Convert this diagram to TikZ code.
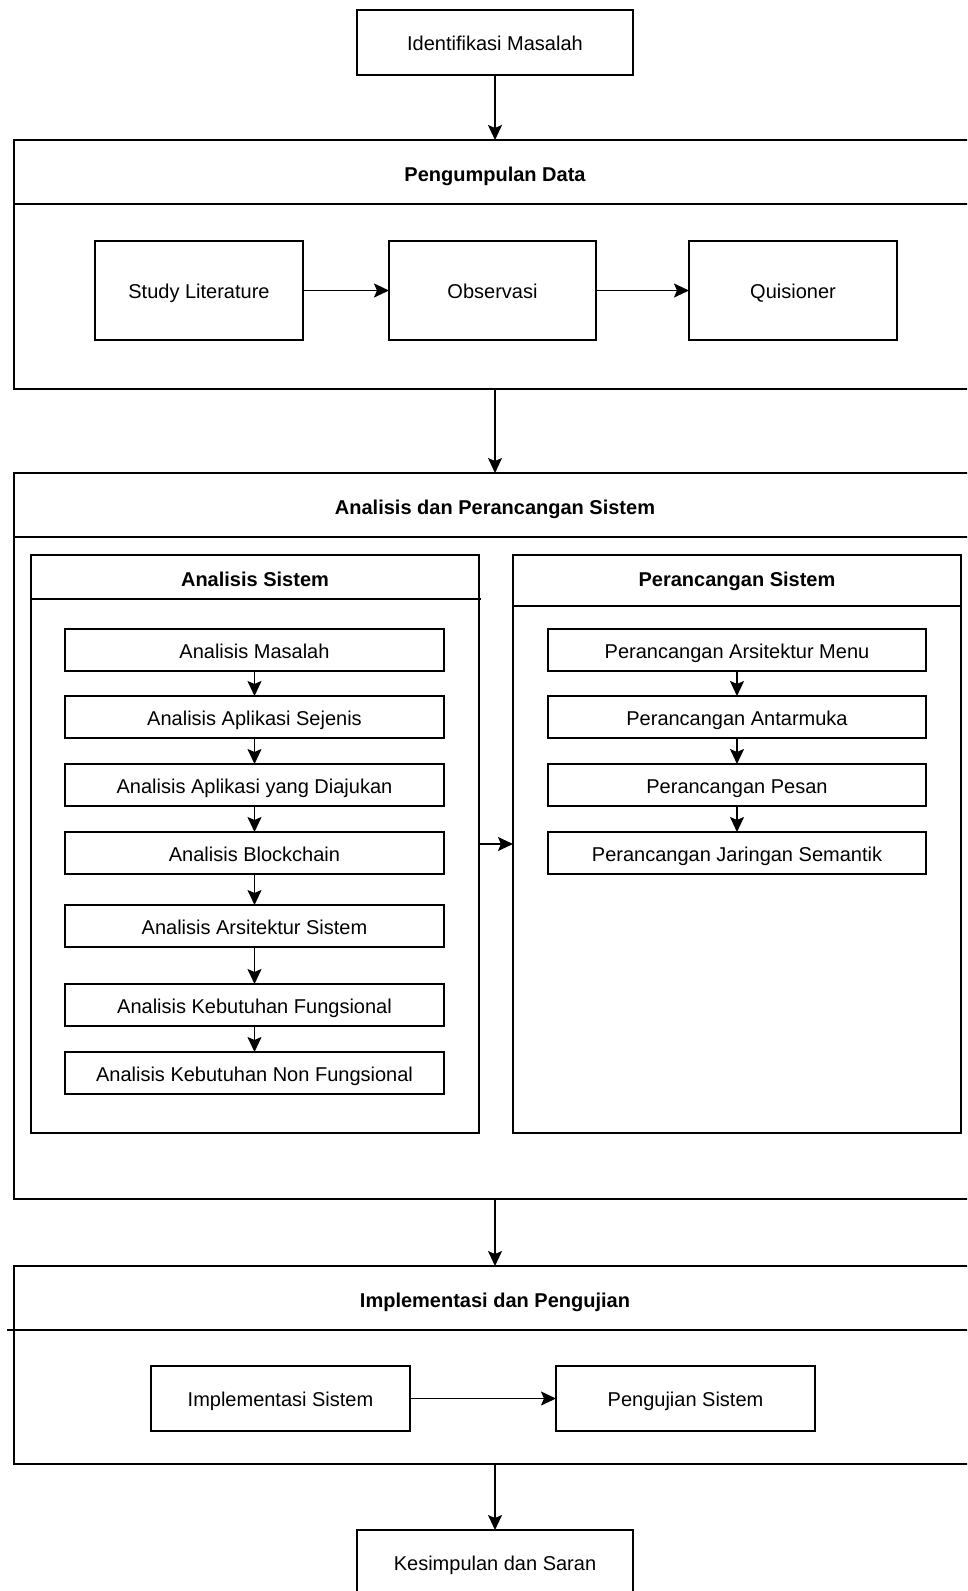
\documentclass[tikz,border=0pt]{standalone}
\usepackage{fontspec}
\setmainfont{Liberation Sans}
\usetikzlibrary{arrows.meta}
\tikzset{
  box/.style={draw=black, line width=1.8pt, fill=white, inner sep=0pt, outer sep=0pt, align=center, text height=17pt, text depth=1pt, font=\fontsize{20}{24}\selectfont},
  cont/.style={draw=black, line width=1.8pt, inner sep=0pt, outer sep=0pt, anchor=north west},
  hdr/.style={draw=black, line width=2.8pt},
  ttl/.style={font=\fontsize{20}{24}\selectfont\bfseries, inner sep=0pt, text height=17pt, text depth=1pt},
  arr/.style={draw=black, line width=1.8pt, -{Stealth[length=15pt,width=14pt,inset=3pt]}},
}
\begin{document}
\begin{tikzpicture}[x=1pt,y=-1pt]
\useasboundingbox (0,0) rectangle (967,1591);
\clip (0,0) rectangle (967,1591);
\fill[white] (0,0) rectangle (967,1591);
% top box
\node[box, minimum width=276, minimum height=65] (idm) at (495,42.5) {Identifikasi Masalah};
% Pengumpulan Data
\node[cont, minimum width=962, minimum height=249] (pd) at (14,140) {};
\draw[hdr] (14,204) -- (976,204);
\node[ttl] (pdt) at (495,173) {Pengumpulan Data};
\node[box, minimum width=208, minimum height=99] (sl) at (199,290.5) {Study Literature};
\node[box, minimum width=207, minimum height=99] (obs) at (492.5,290.5) {Observasi};
\node[box, minimum width=208, minimum height=99] (qui) at (793,290.5) {Quisioner};
% Analisis dan Perancangan
\node[cont, minimum width=962, minimum height=726] (aps) at (14,473) {};
\draw[hdr] (14,537) -- (976,537);
\node[ttl] (apst) at (495,506) {Analisis dan Perancangan Sistem};
\node[cont, minimum width=448, minimum height=578] (as) at (31,555) {};
\draw[hdr] (31,599) -- (481,599);
\node[ttl] (ast) at (255,578) {Analisis Sistem};
\node[cont, minimum width=448, minimum height=578] (ps) at (513,555) {};
\draw[hdr] (513,606) -- (961,606);
\node[ttl] (pst) at (737,578) {Perancangan Sistem};
% left column
\node[box, minimum width=379, minimum height=42] (a1) at (254.5,650) {Analisis Masalah};
\node[box, minimum width=379, minimum height=42] (a2) at (254.5,717) {Analisis Aplikasi Sejenis};
\node[box, minimum width=379, minimum height=42] (a3) at (254.5,785) {Analisis Aplikasi yang Diajukan};
\node[box, minimum width=379, minimum height=42] (a4) at (254.5,853) {Analisis Blockchain};
\node[box, minimum width=379, minimum height=42] (a5) at (254.5,926) {Analisis Arsitektur Sistem};
\node[box, minimum width=379, minimum height=42] (a6) at (254.5,1005) {Analisis Kebutuhan Fungsional};
\node[box, minimum width=379, minimum height=42] (a7) at (254.5,1073) {Analisis Kebutuhan Non Fungsional};
% right column
\node[box, minimum width=378, minimum height=42] (p1) at (737,650) {Perancangan Arsitektur Menu};
\node[box, minimum width=378, minimum height=42] (p2) at (737,717) {Perancangan Antarmuka};
\node[box, minimum width=378, minimum height=42] (p3) at (737,785) {Perancangan Pesan};
\node[box, minimum width=378, minimum height=42] (p4) at (737,853) {Perancangan Jaringan Semantik};
% Implementasi dan Pengujian
\node[cont, minimum width=962, minimum height=198] (ip) at (14,1266) {};
\draw[hdr] (7,1330) -- (976,1330);
\node[ttl] (ipt) at (495,1299) {Implementasi dan Pengujian};
\node[box, minimum width=259, minimum height=65] (is) at (280.5,1398.5) {Implementasi Sistem};
\node[box, minimum width=259, minimum height=65] (pjs) at (685.5,1398.5) {Pengujian Sistem};
% bottom
\node[box, minimum width=276, minimum height=65] (ks) at (495,1562.5) {Kesimpulan dan Saran};
% arrows
\draw[arr] (idm.south) -- (idm.south |- pd.north);
\draw[arr] (sl) -- (obs);
\draw[arr] (obs) -- (qui);
\draw[arr] (pd.south) -- (aps.north);
\draw[arr] (a1) -- (a2);
\draw[arr] (a2) -- (a3);
\draw[arr] (a3) -- (a4);
\draw[arr] (a4) -- (a5);
\draw[arr] (a5) -- (a6);
\draw[arr] (a6) -- (a7);
\draw[arr] (p1) -- (p2);
\draw[arr] (p2) -- (p3);
\draw[arr] (p3) -- (p4);
\draw[arr] (as.east) -- (ps.west);
\draw[arr] (aps.south) -- (ip.north);
\draw[arr] (is) -- (pjs);
\draw[arr] (ip.south) -- (ks.north);
\end{tikzpicture}
\end{document}
